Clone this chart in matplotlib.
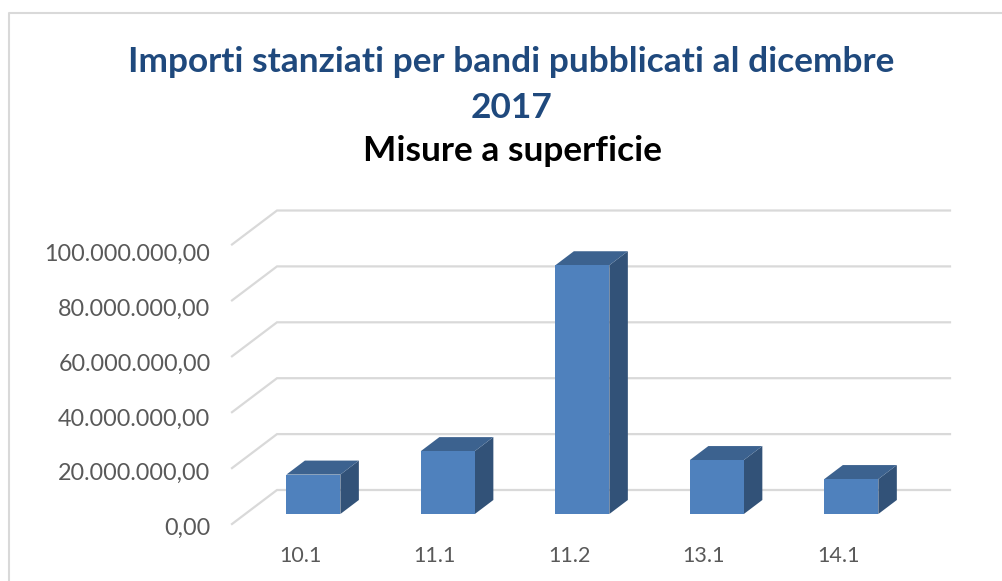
import matplotlib
matplotlib.use("Agg")
import matplotlib.pyplot as plt
from matplotlib.patches import Polygon
from matplotlib.lines import Line2D

categories = ["10.1", "11.1", "11.2", "13.1", "14.1"]
values = [14.1e6, 22.5e6, 89e6, 19.3e6, 12.5e6]
y_ticks = [0, 20e6, 40e6, 60e6, 80e6, 100e6]
y_labels = ["0,00", "20.000.000,00", "40.000.000,00", "60.000.000,00", "80.000.000,00", "100.000.000,00"]
title_lines = ["Importi stanziati per bandi pubblicati al dicembre", "2017"]
subtitle = "Misure a superficie"

W, H = 1003, 581
plt.rcParams['font.family'] = ['Lato', 'DejaVu Sans']
fig = plt.figure(figsize=(W/100, H/100), dpi=100, facecolor='white')

# front plane of the pseudo-3D chart
L, R, T, B = 232, 905, 244.5, 524
ax = fig.add_axes([L/W, 1-B/H, (R-L)/W, (B-T)/H])
ax.set_xlim(-0.605, 4.399)
ax.set_ylim(0, 100e6)
ax.axis('off')

ppx = (ax.get_xlim()[1]-ax.get_xlim()[0])/(R-L)      # data units per pixel
ppy = 100e6/(B-T)
grid_dx, grid_dy = 45*ppx, 34*ppy
x0, x1 = ax.get_xlim()
grid_c = '#D9D9D9'
for t in y_ticks:
    ax.plot([x0, x0+grid_dx, x1+grid_dx], [t, t+grid_dy, t+grid_dy], color=grid_c, lw=1.6, clip_on=False, zorder=1, solid_joinstyle='miter')

bar_w = 54*ppx
base = 10*ppy
dx, dy = 18.5*ppx, 14*ppy
for i, v in enumerate(values):
    l, r, b, t = i-bar_w/2, i+bar_w/2, base, base+v
    ax.add_patch(Polygon([(r, b), (r+dx, b+dy), (r+dx, t+dy), (r, t)], fc='#325278', ec='none', clip_on=False, zorder=3))
    ax.add_patch(Polygon([(l, t), (r, t), (r+dx, t+dy), (l+dx, t+dy)], fc='#3C628F', ec='none', clip_on=False, zorder=3))
    ax.add_patch(Polygon([(l, b), (r, b), (r, t), (l, t)], fc='#4F81BD', ec='none', clip_on=False, zorder=4))
    ax.annotate(categories[i], (i, 0), xytext=(-13*0.72, -32*0.72), textcoords='offset points',
                ha='center', va='center', fontsize=15.5, color='#595959', annotation_clip=False)

for k, (t, s) in enumerate(zip(y_ticks, y_labels)):
    ax.annotate(s, (x0, t), xytext=(-21.5*0.72, -(4.5+1.1*k)*0.72), textcoords='offset points',
                ha='right', va='center', fontsize=16.8, color='#595959', annotation_clip=False)

# chart frame: left and top edges only
c = '#D9D9D9'
fig.add_artist(Line2D([9.5/W, 9.5/W, 1], [0, 1-13/H, 1-13/H], color=c, lw=1.5))

fig.text(511.5/W, 1-62/H, title_lines[0], ha='center', va='center', fontsize=25.4, fontweight='bold', color='#1F497D')
fig.text(511.5/W, 1-108/H, title_lines[1], ha='center', va='center', fontsize=25.4, fontweight='bold', color='#1F497D')
fig.text(512.5/W, 1-151/H, subtitle, ha='center', va='center', fontsize=25.4, fontweight='bold', color='black')

fig.savefig('out.png', dpi=100)
